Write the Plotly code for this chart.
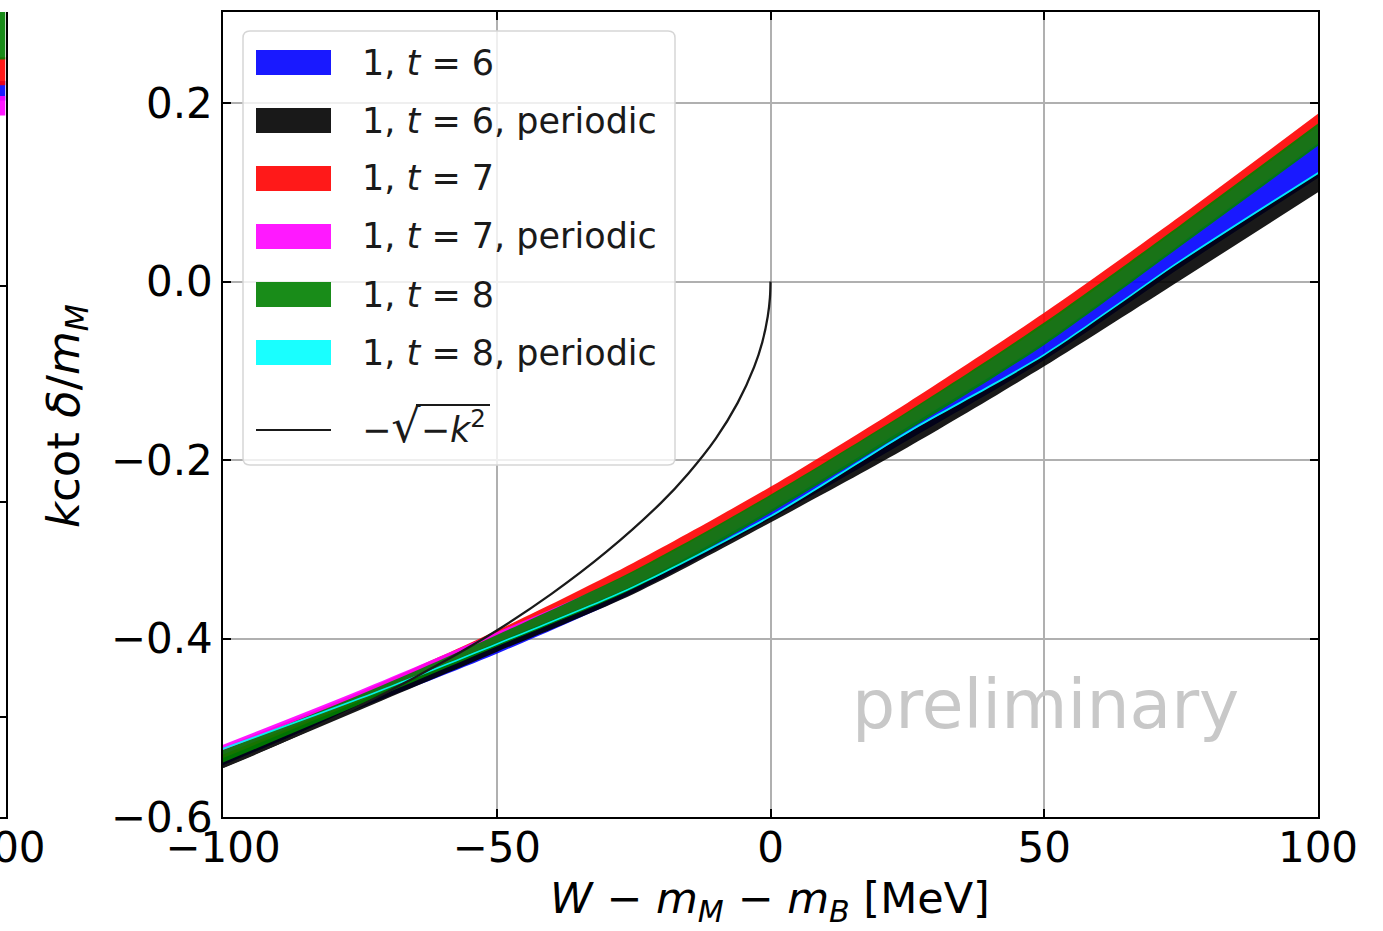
import plotly.graph_objects as go

# ---------------- data ----------------
x_band = [-100, -75, -50, -25, 0, 25, 50, 75, 100]

blue_lo = [-0.542, -0.478, -0.417, -0.349, -0.266, -0.178, -0.088, 0.016, 0.116]
blue_hi = [-0.529, -0.466, -0.401, -0.336, -0.250, -0.156, -0.062, 0.050, 0.162]
black_lo = [-0.545, -0.480, -0.415, -0.350, -0.270, -0.186, -0.095, 0.002, 0.100]
black_hi = [-0.532, -0.470, -0.407, -0.341, -0.263, -0.170, -0.082, 0.023, 0.121]
red_lo = [-0.534, -0.470, -0.404, -0.338, -0.252, -0.160, -0.066, 0.046, 0.158]
red_hi = [-0.522, -0.460, -0.391, -0.315, -0.230, -0.136, -0.035, 0.074, 0.188]
magenta_lo = [-0.530, -0.468, -0.404, -0.340, -0.256, -0.163, -0.068, 0.043, 0.155]
magenta_hi = [-0.519, -0.458, -0.393, -0.326, -0.241, -0.148, -0.049, 0.061, 0.174]
green_lo = [-0.539, -0.474, -0.409, -0.344, -0.259, -0.167, -0.071, 0.040, 0.152]
green_hi = [-0.525, -0.463, -0.396, -0.324, -0.239, -0.146, -0.046, 0.064, 0.177]
cyan_lo = [-0.5247, -0.4682, -0.4072, -0.3431, -0.2642, -0.1702, -0.0832, 0.0223, 0.1203]
cyan_hi = [-0.5223, -0.4662, -0.4052, -0.3411, -0.2618, -0.1678, -0.0808, 0.0247, 0.1227]

x_curve = [-100, -90, -80, -70, -60, -50, -40, -30, -20, -15, -10, -6, -3, -1.5, -0.5, -0.1, 0]
y_curve = [-0.544, -0.518, -0.490, -0.460, -0.427, -0.391, -0.350, -0.303, -0.248, -0.215,
           -0.176, -0.136, -0.096, -0.068, -0.039, -0.018, 0.0]

series_names = ["1, <i>t</i> = 6", "1, <i>t</i> = 6, periodic", "1, <i>t</i> = 7",
                "1, <i>t</i> = 7, periodic", "1, <i>t</i> = 8", "1, <i>t</i> = 8, periodic"]
curve_name = "−<span style='font-size:46px'>√</span>−<i>k</i><sup>2</sup>"

x_ticks = [-100, -50, 0, 50, 100]
x_ticktext = ["−100", "−50", "0", "50", "100"]
y_ticks = [-0.6, -0.4, -0.2, 0.0, 0.2]
y_ticktext = ["−0.6", "−0.4", "−0.2", "0.0", "0.2"]

# neighbouring (cropped) panel on the far left
x_left = [95, 100]
left_blue = ([2.86, 2.86], [2.95, 2.95])
left_red = ([2.93, 2.93], [3.06, 3.06])
left_magenta = ([2.79, 2.79], [2.88, 2.88])
left_green = ([3.05, 3.05], [3.40, 3.40])
left_yticks = [0, 1, 2]

# ---------------- styling ----------------
W, H = 1383, 931
TOP, BOT = 12, 817
FONT = "DejaVu Sans"
cols = ["rgba(0,0,255,0.9)", "rgba(0,0,0,0.9)", "rgba(255,0,0,0.9)",
        "rgba(255,0,255,0.9)", "rgba(0,128,0,0.9)", "rgba(0,255,255,0.9)"]


def PX(x):
    return x / W


def PY(y):
    return (BOT - y) / (BOT - TOP)


fig = go.Figure()

bands = [(blue_lo, blue_hi), (black_lo, black_hi), (red_lo, red_hi),
         (magenta_lo, magenta_hi), (green_lo, green_hi), (cyan_lo, cyan_hi)]
for (lo, hi), c, name in zip(bands, cols, series_names):
    fig.add_trace(go.Scatter(x=x_band, y=lo, mode="lines",
                             line=dict(width=0, shape="spline", smoothing=0.8),
                             showlegend=False, hoverinfo="skip"))
    fig.add_trace(go.Scatter(x=x_band, y=hi, mode="lines",
                             line=dict(width=0, shape="spline", smoothing=0.8),
                             fill="tonexty", fillcolor=c, name=name, showlegend=False))

fig.add_trace(go.Scatter(x=x_curve, y=y_curve, mode="lines", name="-sqrt(-k^2)",
                         line=dict(color="#1a1a1a", width=2.3, shape="spline"),
                         showlegend=False))

# left cropped panel
for (lo, hi), c in zip([left_blue, left_red, left_magenta, left_green],
                       [cols[0], cols[2], cols[3], cols[4]]):
    fig.add_trace(go.Scatter(x=x_left, y=lo, mode="lines", line=dict(width=0),
                             xaxis="x2", yaxis="y2", showlegend=False, hoverinfo="skip"))
    fig.add_trace(go.Scatter(x=x_left, y=hi, mode="lines", line=dict(width=0), fill="tonexty",
                             fillcolor=c, xaxis="x2", yaxis="y2", showlegend=False))

axis_common = dict(showline=True, linecolor="black", linewidth=1.5, mirror="ticks",
                   ticks="inside", ticklen=8, tickwidth=1.5, tickcolor="black",
                   showgrid=True, gridcolor="#b0b0b0", gridwidth=1.5, zeroline=False,
                   tickfont=dict(family=FONT, size=42, color="black"))

fig.update_layout(
    width=W, height=H,
    margin=dict(l=0, r=0, t=TOP, b=H - BOT, autoexpand=False),
    paper_bgcolor="white", plot_bgcolor="white",
    showlegend=False,
    xaxis=dict(domain=[223 / W, 1318 / W], range=[-100, 100], tickvals=x_ticks,
               ticktext=x_ticktext, ticklabelstandoff=-7, **axis_common),
    yaxis=dict(range=[-0.6, 0.302], tickvals=y_ticks, ticktext=y_ticktext, **axis_common),
    xaxis2=dict(domain=[0, 5.5 / W], range=[95, 100], anchor="y2", showline=True,
                linecolor="black", linewidth=1.5, showgrid=False, zeroline=False,
                tickvals=[100], ticktext=["100"], ticks="", ticklabeloverflow="allow",
                ticklabelstandoff=-7,
                tickfont=dict(family=FONT, size=42, color="black")),
    yaxis2=dict(anchor="x2", side="right", range=[-0.463, 3.27], showline=True,
                linecolor="black", linewidth=1.5, showgrid=False, zeroline=False,
                tickvals=left_yticks, showticklabels=False, ticks="inside", ticklen=8,
                tickwidth=1.5, tickcolor="black"),
)

shapes = []
annotations = []

# legend box (rounded)
x0, x1, y0, y1, r = 243, 675, 31, 465, 7
path = (f"M {PX(x0 + r)},{PY(y0)} L {PX(x1 - r)},{PY(y0)} Q {PX(x1)},{PY(y0)} {PX(x1)},{PY(y0 + r)} "
        f"L {PX(x1)},{PY(y1 - r)} Q {PX(x1)},{PY(y1)} {PX(x1 - r)},{PY(y1)} "
        f"L {PX(x0 + r)},{PY(y1)} Q {PX(x0)},{PY(y1)} {PX(x0)},{PY(y1 - r)} "
        f"L {PX(x0)},{PY(y0 + r)} Q {PX(x0)},{PY(y0)} {PX(x0 + r)},{PY(y0)} Z")
shapes.append(dict(type="path", xref="paper", yref="paper", path=path,
                   fillcolor="rgba(255,255,255,0.8)", line=dict(color="#d6d6d6", width=1.5),
                   layer="above"))

row_y = [62.5, 120.5, 178.5, 236.5, 294.5, 352.5]
for yc, c, name in zip(row_y, cols, series_names):
    shapes.append(dict(type="rect", xref="paper", yref="paper", x0=PX(256), x1=PX(331),
                       y0=PY(yc + 12.5), y1=PY(yc - 12.5), fillcolor=c,
                       line=dict(width=0), layer="above"))
    annotations.append(dict(x=PX(360), y=PY(yc), xref="paper", yref="paper", text=name,
                            showarrow=False, xanchor="left", yanchor="middle",
                            font=dict(family=FONT, size=35, color="#1a1a1a")))

# curve legend entry
shapes.append(dict(type="line", xref="paper", yref="paper", x0=PX(256), x1=PX(331),
                   y0=PY(430), y1=PY(430), line=dict(color="#1a1a1a", width=2.2), layer="above"))
annotations.append(dict(x=PX(360), y=PY(426), xref="paper", yref="paper", text=curve_name,
                        showarrow=False, xanchor="left", yanchor="middle",
                        font=dict(family=FONT, size=35, color="#1a1a1a")))
# radical's overbar
shapes.append(dict(type="line", xref="paper", yref="paper", x0=PX(416), x1=PX(490),
                   y0=PY(405), y1=PY(405), line=dict(color="#1a1a1a", width=1.8), layer="above"))

# axis titles
annotations.append(dict(x=PX(770), y=PY(901), xref="paper", yref="paper",
                        text="<i>W</i> − <i>m</i><sub><i>M</i></sub> − <i>m</i><sub><i>B</i></sub> [MeV]",
                        showarrow=False, xanchor="center", yanchor="middle",
                        font=dict(family=FONT, size=43, color="black")))
annotations.append(dict(x=PX(66), y=PY(416), xref="paper", yref="paper",
                        text="<i>k</i>cot <i>δ</i>/<i>m</i><sub><i>M</i></sub>", textangle=-90,
                        showarrow=False, xanchor="center", yanchor="middle",
                        font=dict(family=FONT, size=45, color="black")))

# watermark
annotations.append(dict(x=PX(1045), y=PY(704), xref="paper", yref="paper", text="preliminary",
                        showarrow=False, xanchor="center", yanchor="middle",
                        font=dict(family=FONT, size=68, color="#c8c8c8")))

fig.update_layout(shapes=shapes, annotations=annotations)
fig.write_html("out.html")
